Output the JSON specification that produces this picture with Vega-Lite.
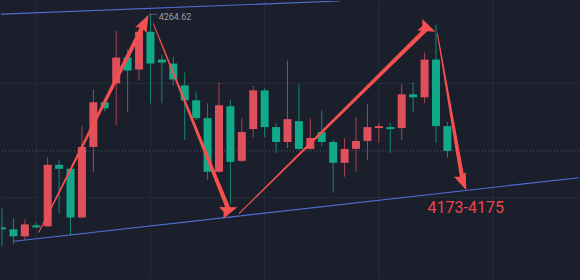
{
  "$schema": "https://vega.github.io/schema/vega-lite/v6.json",
  "width": 580,
  "height": 280,
  "autosize": {"type": "fit", "contains": "padding"},
  "padding": 0,
  "background": "#1b1f2c",
  "config": {"view": {"stroke": null}, "axis": {"disable": true}, "scale": {"continuousPadding": 0}},
  "datasets": {
    "candles": [
      {"i": 0, "o": 4155.17, "h": 4164.84, "l": 4145.49, "c": 4154.15},
      {"i": 1, "o": 4154.15, "h": 4159.75, "l": 4146.51, "c": 4150.58},
      {"i": 2, "o": 4150.58, "h": 4159.24, "l": 4148.55, "c": 4156.69},
      {"i": 3, "o": 4156.18, "h": 4157.71, "l": 4154.66, "c": 4155.17},
      {"i": 4, "o": 4155.67, "h": 4191.31, "l": 4155.67, "c": 4187.24},
      {"i": 5, "o": 4187.24, "h": 4189.78, "l": 4162.29, "c": 4185.2},
      {"i": 6, "o": 4185.2, "h": 4185.2, "l": 4151.09, "c": 4160.26},
      {"i": 7, "o": 4160.26, "h": 4207.09, "l": 4159.75, "c": 4196.4},
      {"i": 8, "o": 4196.4, "h": 4225.93, "l": 4183.67, "c": 4219.31},
      {"i": 9, "o": 4219.31, "h": 4221.35, "l": 4214.73, "c": 4216.26},
      {"i": 10, "o": 4228.98, "h": 4255.97, "l": 4207.6, "c": 4242.22},
      {"i": 11, "o": 4242.22, "h": 4246.29, "l": 4214.22, "c": 4235.6},
      {"i": 12, "o": 4236.11, "h": 4256.99, "l": 4230.51, "c": 4255.46},
      {"i": 13, "o": 4255.46, "h": 4264.62, "l": 4218.8, "c": 4239.17},
      {"i": 14, "o": 4241.2, "h": 4243.75, "l": 4218.8, "c": 4239.68},
      {"i": 15, "o": 4239.17, "h": 4242.73, "l": 4227.97, "c": 4231.02},
      {"i": 16, "o": 4227.97, "h": 4234.58, "l": 4199.97, "c": 4220.33},
      {"i": 17, "o": 4220.33, "h": 4224.91, "l": 4210.15, "c": 4211.17},
      {"i": 18, "o": 4211.17, "h": 4218.8, "l": 4179.6, "c": 4183.67},
      {"i": 19, "o": 4183.67, "h": 4229.49, "l": 4183.17, "c": 4217.78},
      {"i": 20, "o": 4217.28, "h": 4220.33, "l": 4166.87, "c": 4188.77},
      {"i": 21, "o": 4189.27, "h": 4211.17, "l": 4188.77, "c": 4204.04},
      {"i": 22, "o": 4205.57, "h": 4227.97, "l": 4201.49, "c": 4225.42},
      {"i": 23, "o": 4225.42, "h": 4226.44, "l": 4201.49, "c": 4206.58},
      {"i": 24, "o": 4206.58, "h": 4208.62, "l": 4193.35, "c": 4198.95},
      {"i": 25, "o": 4198.95, "h": 4240.69, "l": 4195.89, "c": 4210.66},
      {"i": 26, "o": 4209.64, "h": 4228.48, "l": 4194.87, "c": 4195.38},
      {"i": 27, "o": 4195.38, "h": 4211.17, "l": 4194.87, "c": 4200.98},
      {"i": 28, "o": 4204.04, "h": 4215.24, "l": 4196.91, "c": 4198.95},
      {"i": 29, "o": 4198.95, "h": 4199.97, "l": 4172.98, "c": 4188.26},
      {"i": 30, "o": 4188.26, "h": 4200.98, "l": 4181.13, "c": 4195.38},
      {"i": 31, "o": 4195.38, "h": 4211.68, "l": 4183.67, "c": 4199.46},
      {"i": 32, "o": 4199.46, "h": 4218.29, "l": 4189.78, "c": 4206.58},
      {"i": 33, "o": 4206.08, "h": 4208.62, "l": 4198.44, "c": 4207.09},
      {"i": 34, "o": 4206.58, "h": 4208.62, "l": 4193.35, "c": 4205.57},
      {"i": 35, "o": 4206.08, "h": 4228.48, "l": 4199.97, "c": 4223.38},
      {"i": 36, "o": 4223.38, "h": 4229.49, "l": 4214.22, "c": 4221.86},
      {"i": 37, "o": 4221.86, "h": 4244.77, "l": 4218.8, "c": 4241.2},
      {"i": 38, "o": 4241.2, "h": 4259.02, "l": 4198.44, "c": 4207.09},
      {"i": 39, "o": 4207.09, "h": 4209.13, "l": 4190.8, "c": 4194.37}
    ],
    "arrows": [
      {"arrow": 1, "seq": 0, "i": 3.23, "p": 4152.62},
      {"arrow": 1, "seq": 1, "i": 12.48, "p": 4260.01},
      {"arrow": 2, "seq": 0, "i": 13.26, "p": 4259.53},
      {"arrow": 2, "seq": 1, "i": 19.86, "p": 4164.0},
      {"arrow": 3, "seq": 0, "i": 20.77, "p": 4162.29},
      {"arrow": 3, "seq": 1, "i": 37.23, "p": 4257.33},
      {"arrow": 4, "seq": 0, "i": 38.13, "p": 4254.44},
      {"arrow": 4, "seq": 1, "i": 40.36, "p": 4178.52}
    ],
    "trendlines": [
      {"line": "upper", "i": -0.0873, "p": 4264.47},
      {"line": "upper", "i": 29.58, "p": 4271.24},
      {"line": "lower", "i": 1.05, "p": 4148.04},
      {"line": "lower", "i": 50.524, "p": 4180.62}
    ],
    "gridx": [{"i": 3}, {"i": 13}, {"i": 23}, {"i": 33}, {"i": 43}],
    "gridy": [{"p": 4228.98}, {"p": 4170.44}],
    "labels": [
      {"kind": "high", "text": "4264.62", "i": 13.72, "p": 4263.25},
      {"kind": "target", "text": "4173-4175", "i": 37.26, "p": 4165.35}
    ],
    "marker": [{"i": 12.92, "i2": 13.55, "p": 4264.4}]
  },
  "layer": [
    {
      "data": {"name": "gridx"},
      "mark": {"type": "rule", "color": "#262c39", "strokeWidth": 1},
      "encoding": {
        "x": {"field": "i", "type": "quantitative", "scale": {"domain": [-0.0873, 50.524], "nice": false, "zero": false, "padding": 0}, "axis": null}
      }
    },
    {
      "data": {"name": "gridy"},
      "mark": {"type": "rule", "color": "#262c39", "strokeWidth": 1},
      "encoding": {
        "y": {"field": "p", "type": "quantitative", "scale": {"domain": [4128.69, 4271.24], "nice": false, "zero": false}, "axis": null}
      }
    },
    {
      "data": {"name": "candles"},
      "transform": [{"filter": "datum.i == 39"}],
      "mark": {"type": "rule", "color": "#3d5f60", "strokeWidth": 1, "strokeDash": [1, 2]},
      "encoding": {
        "y": {"field": "c", "type": "quantitative", "scale": {"domain": [4128.69, 4271.24], "nice": false, "zero": false}, "axis": null}
      }
    },
    {
      "data": {"name": "trendlines"},
      "mark": {"type": "line", "color": "#4d6fd2", "strokeWidth": 1.2, "clip": true},
      "encoding": {
        "x": {"field": "i", "type": "quantitative", "scale": {"domain": [-0.0873, 50.524], "nice": false, "zero": false, "padding": 0}, "axis": null},
        "y": {"field": "p", "type": "quantitative", "scale": {"domain": [4128.69, 4271.24], "nice": false, "zero": false}, "axis": null},
        "detail": {"field": "line", "type": "nominal"}
      }
    },
    {
      "data": {"name": "candles"},
      "mark": {"type": "rule", "strokeWidth": 1, "clip": true},
      "encoding": {
        "x": {"field": "i", "type": "quantitative", "scale": {"domain": [-0.0873, 50.524], "nice": false, "zero": false, "padding": 0}, "axis": null},
        "y": {"field": "l", "type": "quantitative", "scale": {"domain": [4128.69, 4271.24], "nice": false, "zero": false}, "axis": null},
        "y2": {"field": "h"},
        "color": {"condition": {"test": "datum.c >= datum.o", "value": "#a9424d"}, "value": "#118a72"}
      }
    },
    {
      "data": {"name": "candles"},
      "mark": {"type": "bar", "size": 8, "orient": "vertical", "clip": true},
      "encoding": {
        "x": {"field": "i", "type": "quantitative", "scale": {"domain": [-0.0873, 50.524], "nice": false, "zero": false, "padding": 0}, "axis": null},
        "y": {"field": "o", "type": "quantitative", "scale": {"domain": [4128.69, 4271.24], "nice": false, "zero": false}, "axis": null},
        "y2": {"field": "c"},
        "color": {"condition": {"test": "datum.c >= datum.o", "value": "#e0505c"}, "value": "#10a98a"}
      }
    },
    {
      "data": {"name": "arrows"},
      "mark": {"type": "trail", "color": "#f4504f"},
      "encoding": {
        "x": {"field": "i", "type": "quantitative", "scale": {"domain": [-0.0873, 50.524], "nice": false, "zero": false, "padding": 0}, "axis": null},
        "y": {"field": "p", "type": "quantitative", "scale": {"domain": [4128.69, 4271.24], "nice": false, "zero": false}, "axis": null},
        "size": {"field": "seq", "type": "quantitative", "scale": {"domain": [0, 1], "range": [1, 4.5]}, "legend": null},
        "detail": {"field": "arrow", "type": "nominal"},
        "order": {"field": "seq", "type": "quantitative"}
      }
    },
    {
      "data": {"name": "arrows"},
      "transform": [{"filter": "datum.seq == 1"}],
      "mark": {"type": "point", "filled": true, "opacity": 1, "color": "#f4504f", "size": 324, "shape": "M0,-1L0.7,0.9L0,0.6L-0.7,0.9Z", "strokeWidth": 0},
      "encoding": {
        "x": {"field": "i", "type": "quantitative", "scale": {"domain": [-0.0873, 50.524], "nice": false, "zero": false, "padding": 0}, "axis": null},
        "y": {"field": "p", "type": "quantitative", "scale": {"domain": [4128.69, 4271.24], "nice": false, "zero": false}, "axis": null},
        "angle": {"field": "arrow", "type": "ordinal", "scale": {"domain": [1, 2, 3, 4], "range": [26.67, 158.05, 45.3, 170.3]}, "legend": null}
      }
    },
    {
      "data": {"name": "marker"},
      "mark": {"type": "rule", "color": "#8a909b", "strokeWidth": 1, "strokeDash": [1, 1]},
      "encoding": {
        "x": {"field": "i", "type": "quantitative", "scale": {"domain": [-0.0873, 50.524], "nice": false, "zero": false, "padding": 0}, "axis": null},
        "x2": {"field": "i2"},
        "y": {"field": "p", "type": "quantitative", "scale": {"domain": [4128.69, 4271.24], "nice": false, "zero": false}, "axis": null}
      }
    },
    {
      "data": {"name": "labels"},
      "transform": [{"filter": "datum.kind == 'high'"}],
      "mark": {"type": "text", "align": "left", "baseline": "middle", "fontSize": 9, "font": "Roboto", "color": "#9aa0aa"},
      "encoding": {
        "x": {"field": "i", "type": "quantitative", "scale": {"domain": [-0.0873, 50.524], "nice": false, "zero": false, "padding": 0}, "axis": null},
        "y": {"field": "p", "type": "quantitative", "scale": {"domain": [4128.69, 4271.24], "nice": false, "zero": false}, "axis": null},
        "text": {"field": "text"}
      }
    },
    {
      "data": {"name": "labels"},
      "transform": [{"filter": "datum.kind == 'target'"}],
      "mark": {"type": "text", "align": "left", "baseline": "middle", "fontSize": 16, "font": "Roboto", "color": "#e8474c"},
      "encoding": {
        "x": {"field": "i", "type": "quantitative", "scale": {"domain": [-0.0873, 50.524], "nice": false, "zero": false, "padding": 0}, "axis": null},
        "y": {"field": "p", "type": "quantitative", "scale": {"domain": [4128.69, 4271.24], "nice": false, "zero": false}, "axis": null},
        "text": {"field": "text"}
      }
    }
  ]
}
